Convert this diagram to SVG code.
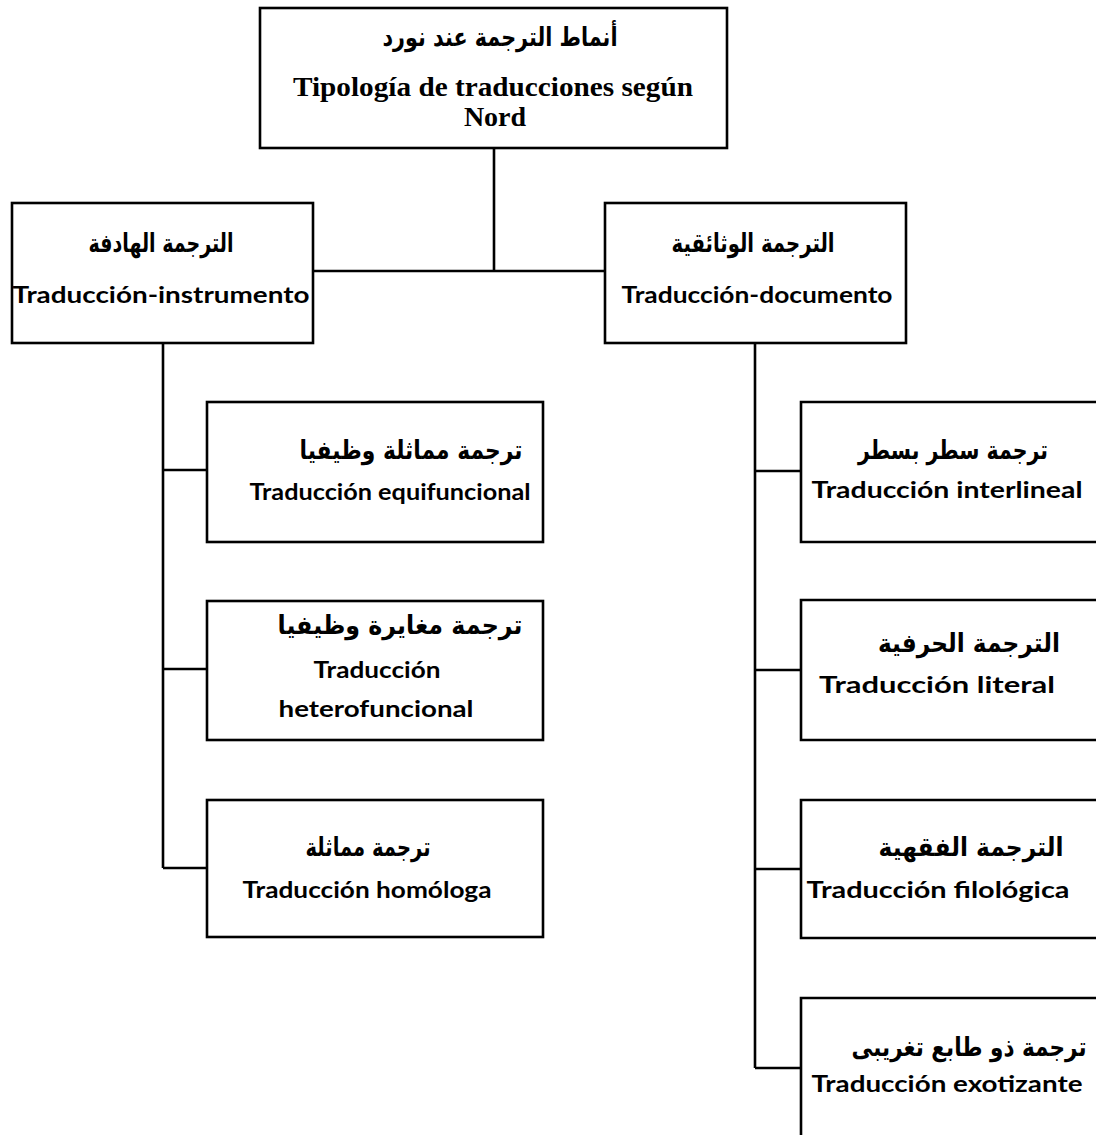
<svg xmlns="http://www.w3.org/2000/svg" width="1096" height="1135" viewBox="0 0 1096 1135">
<style>
.box{fill:#fff;stroke:#000;stroke-width:2.6}
.open{fill:#fff;stroke:#000;stroke-width:2.6}
.ln{fill:none;stroke:#000;stroke-width:2.6}
.ar{font-family:"DejaVu Sans","Noto Sans",sans-serif;font-weight:bold;font-size:26px;fill:#000;text-anchor:middle}
.en{font-family:Lato,"Open Sans",sans-serif;font-weight:bold;font-size:23px;fill:#000;text-anchor:middle}
.tm{font-family:"Liberation Serif","Times New Roman",serif;font-weight:bold;font-size:28px;fill:#000;text-anchor:middle}
</style>
<rect width="1096" height="1135" fill="#fff"/>
<g id="connectors">
<path class="ln" d="M494 148V271M313 271H605"/>
<path class="ln" d="M163 343V868M163 470H207M163 669H207M163 868H207"/>
<path class="ln" d="M755 343V1068M755 471H801M755 670H801M755 869H801M755 1068H801"/>
</g>
<g id="root">
<rect class="box" x="260" y="8" width="467" height="140"/>
<text class="ar" x="500" y="46" textLength="235" lengthAdjust="spacingAndGlyphs" direction="rtl">أنماط الترجمة عند نورد</text>
<text class="tm" x="493" y="96" textLength="400" lengthAdjust="spacingAndGlyphs">Tipología de traducciones según</text>
<text class="tm" x="495" y="126">Nord</text>
</g>
<g id="instrumento">
<rect class="box" x="12" y="203" width="301" height="140"/>
<text class="ar" x="161" y="252" textLength="145" lengthAdjust="spacingAndGlyphs" direction="rtl">الترجمة الهادفة</text>
<text class="en" x="161" y="303" textLength="297" lengthAdjust="spacingAndGlyphs">Traducción-instrumento</text>
</g>
<g id="documento">
<rect class="box" x="605" y="203" width="301" height="140"/>
<text class="ar" x="753" y="252" textLength="163" lengthAdjust="spacingAndGlyphs" direction="rtl">الترجمة الوثائقية</text>
<text class="en" x="757" y="303" textLength="271" lengthAdjust="spacingAndGlyphs">Traducción-documento</text>
</g>
<g id="equifuncional">
<rect class="box" x="207" y="402" width="336" height="140"/>
<text class="ar" x="411" y="459" textLength="223" lengthAdjust="spacingAndGlyphs" direction="rtl">ترجمة مماثلة وظيفيا</text>
<text class="en" x="390" y="500" textLength="281" lengthAdjust="spacingAndGlyphs">Traducción equifuncional</text>
</g>
<g id="heterofuncional">
<rect class="box" x="207" y="601" width="336" height="139"/>
<text class="ar" x="400" y="634" textLength="245" lengthAdjust="spacingAndGlyphs" direction="rtl">ترجمة مغايرة وظيفيا</text>
<text class="en" x="377" y="678" textLength="127" lengthAdjust="spacingAndGlyphs">Traducción</text>
<text class="en" x="376" y="717" textLength="195" lengthAdjust="spacingAndGlyphs">heterofuncional</text>
</g>
<g id="homologa">
<rect class="box" x="207" y="800" width="336" height="137"/>
<text class="ar" x="368" y="856" textLength="125" lengthAdjust="spacingAndGlyphs" direction="rtl">ترجمة مماثلة</text>
<text class="en" x="367" y="898" textLength="249" lengthAdjust="spacingAndGlyphs">Traducción homóloga</text>
</g>
<g id="interlineal">
<path class="open" d="M1096 402H801V542H1096"/>
<text class="ar" x="953" y="459" textLength="190" lengthAdjust="spacingAndGlyphs" direction="rtl">ترجمة سطر بسطر</text>
<text class="en" x="947" y="498" textLength="271" lengthAdjust="spacingAndGlyphs">Traducción interlineal</text>
</g>
<g id="literal">
<path class="open" d="M1096 600H801V740H1096"/>
<text class="ar" x="969" y="652" textLength="182" lengthAdjust="spacingAndGlyphs" direction="rtl">الترجمة الحرفية</text>
<text class="en" x="937" y="693" textLength="236" lengthAdjust="spacingAndGlyphs">Traducción literal</text>
</g>
<g id="filologica">
<path class="open" d="M1096 800H801V938H1096"/>
<text class="ar" x="971" y="856" textLength="185" lengthAdjust="spacingAndGlyphs" direction="rtl">الترجمة الفقهية</text>
<text class="en" x="938" y="898" textLength="263" lengthAdjust="spacingAndGlyphs">Traducción filológica</text>
</g>
<g id="exotizante">
<path class="open" d="M1096 998H801V1135"/>
<text class="ar" x="969" y="1056" textLength="235" lengthAdjust="spacingAndGlyphs" direction="rtl">ترجمة ذو طابع تغريبى</text>
<text class="en" x="947" y="1092" textLength="271" lengthAdjust="spacingAndGlyphs">Traducción exotizante</text>
</g>
</svg>
